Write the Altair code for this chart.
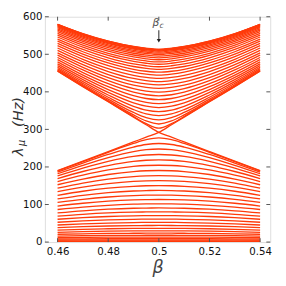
import altair as alt
import pandas as pd

# beta sample points (left half; the spectrum is symmetric about beta_c = 0.5)
beta_left = [0.46, 0.47, 0.48, 0.49, 0.495, 0.5]
beta_right = [0.505, 0.51, 0.52, 0.53, 0.54]

# upper band eigenvalues (Hz), sorted, at each beta of beta_left
upper_046 = [455.4, 456.8, 458.9, 461.9, 465.5, 469.8, 474.7, 480.0, 485.6, 491.6, 497.8, 504.0, 510.4, 516.7, 522.9, 529.0, 534.9, 540.6, 546.0, 551.1, 555.9, 560.3, 564.3, 567.9, 571.1, 573.8, 576.0, 577.7, 579.0, 579.7, 580.0]
upper_047 = [414.6, 416.3, 419.0, 422.7, 427.3, 432.5, 438.4, 444.7, 451.4, 458.3, 465.4, 472.6, 479.7, 486.7, 493.6, 500.3, 506.8, 513.0, 518.8, 524.3, 529.5, 534.2, 538.4, 542.3, 545.6, 548.4, 550.8, 552.6, 554.0, 554.7, 555.0]
upper_048 = [374.3, 376.7, 380.6, 385.6, 391.7, 398.5, 405.9, 413.7, 421.7, 429.8, 438.0, 446.1, 454.1, 462.0, 469.6, 476.9, 483.9, 490.6, 496.9, 502.7, 508.2, 513.2, 517.7, 521.7, 525.2, 528.2, 530.7, 532.6, 534.0, 534.8, 535.1]
upper_049 = [334.3, 338.7, 345.1, 352.9, 361.6, 370.7, 380.1, 389.7, 399.1, 408.5, 417.8, 426.8, 435.6, 444.1, 452.3, 460.1, 467.5, 474.5, 481.1, 487.2, 492.9, 498.1, 502.8, 506.9, 510.5, 513.6, 516.1, 518.1, 519.5, 520.4, 520.7]
upper_0495 = [315.3, 322.4, 331.4, 341.3, 351.5, 361.8, 372.1, 382.3, 392.3, 402.1, 411.7, 421.0, 430.0, 438.7, 447.0, 454.9, 462.4, 469.5, 476.2, 482.3, 488.0, 493.2, 497.9, 502.1, 505.7, 508.8, 511.4, 513.4, 514.8, 515.6, 515.9]
upper_050 = [303.2, 314.4, 325.5, 336.5, 347.5, 358.2, 368.8, 379.2, 389.4, 399.3, 409.0, 418.4, 427.4, 436.1, 444.4, 452.3, 459.8, 466.9, 473.5, 479.7, 485.4, 490.6, 495.3, 499.4, 503.0, 506.1, 508.7, 510.7, 512.1, 512.9, 513.2]

# lower band eigenvalues (Hz)
lower_046 = [189.1, 186.3, 181.9, 176.1, 169.1, 161.2, 152.6, 143.5, 134.1, 124.6, 114.9, 105.4, 95.9, 86.7, 77.7, 69.0, 60.7, 52.8, 45.4, 38.4, 32.0, 26.0, 20.7, 15.9, 11.7, 8.2, 5.3, 3.0, 1.3, 0.3, 0.0]
lower_047 = [214.2, 210.4, 204.4, 196.8, 187.9, 178.1, 167.8, 157.1, 146.2, 135.3, 124.4, 113.8, 103.3, 93.1, 83.3, 73.9, 64.9, 56.4, 48.4, 40.9, 34.0, 27.7, 22.0, 16.9, 12.5, 8.7, 5.6, 3.1, 1.4, 0.4, 0.0]
lower_048 = [239.0, 233.3, 225.0, 214.9, 203.7, 192.0, 179.9, 167.7, 155.5, 143.4, 131.6, 120.0, 108.8, 97.9, 87.5, 77.5, 68.0, 59.0, 50.6, 42.8, 35.5, 28.9, 22.9, 17.6, 13.0, 9.0, 5.8, 3.3, 1.5, 0.4, 0.0]
lower_049 = [262.6, 253.0, 241.1, 228.1, 214.7, 201.3, 187.8, 174.5, 161.4, 148.5, 136.0, 123.9, 112.1, 100.8, 90.0, 79.6, 69.8, 60.6, 51.9, 43.8, 36.4, 29.6, 23.4, 18.0, 13.3, 9.2, 5.9, 3.3, 1.5, 0.4, 0.0]
lower_0495 = [272.5, 259.8, 246.0, 231.9, 217.8, 203.8, 189.9, 176.2, 162.9, 149.9, 137.2, 124.9, 113.0, 101.6, 90.6, 80.2, 70.3, 61.0, 52.3, 44.1, 36.7, 29.8, 23.6, 18.1, 13.4, 9.3, 6.0, 3.4, 1.5, 0.4, 0.0]
lower_050 = [277.2, 262.4, 247.8, 233.2, 218.8, 204.6, 190.6, 176.8, 163.4, 150.3, 137.5, 125.2, 113.3, 101.8, 90.8, 80.4, 70.4, 61.1, 52.4, 44.2, 36.7, 29.8, 23.7, 18.2, 13.4, 9.3, 6.0, 3.4, 1.5, 0.4, 0.0]

# the two crossing branches forming the X at beta_c
cross_beta = [0.46, 0.47, 0.48, 0.49, 0.495, 0.5, 0.505, 0.51, 0.52, 0.53, 0.54]
cross_down = [455.0, 414.0, 373.5, 332.8, 312.4, 292.0, 279.3, 266.5, 241.0, 215.5, 190.0]
cross_up = [190.0, 215.5, 241.0, 266.5, 279.3, 292.0, 312.4, 332.8, 373.5, 414.0, 455.0]

x_ticks = [0.46, 0.48, 0.5, 0.52, 0.54]
y_ticks = [0, 100, 200, 300, 400, 500, 600]

rows = []
for band, cols in (("u", [upper_046, upper_047, upper_048, upper_049, upper_0495, upper_050]),
                   ("l", [lower_046, lower_047, lower_048, lower_049, lower_0495, lower_050])):
    mirrored = list(reversed(cols[:-1]))
    for j in range(len(cols[0])):
        cid = f"{band}{j}"
        for b, col in zip(beta_left, cols):
            rows.append({"beta": b, "lam": col[j], "curve": cid})
        for b, col in zip(beta_right, mirrored):
            rows.append({"beta": b, "lam": col[j], "curve": cid})
for name, vals in (("xd", cross_down), ("xu", cross_up)):
    for b, v in zip(cross_beta, vals):
        rows.append({"beta": b, "lam": v, "curve": name})
df = pd.DataFrame(rows)

W, H = 232, 232
xscale = alt.Scale(domain=[0.455, 0.544], nice=False, zero=False)
yscale = alt.Scale(domain=[0, 600], nice=False)

x_axis = alt.Axis(values=x_ticks, format="~g", ticks=False, domain=False, grid=False,
                  labelOverlap=False, labelFlush=False,
                  labelFont="DejaVu Sans", labelFontSize=10.5, labelColor="#111", labelPadding=5,
                  title="β", titleFont="DejaVu Sans", titleFontSize=18, titleFontStyle="italic",
                  titleFontWeight="normal", titleColor="#444", titlePadding=2)
y_axis = alt.Axis(values=y_ticks, ticks=False, domain=False, grid=False,
                  labelOverlap=False, labelFlush=False,
                  labelFont="DejaVu Sans", labelFontSize=10.5, labelColor="#111", labelPadding=3,
                  title=None)


def X(field):
    return alt.X(field, type="quantitative", scale=xscale, axis=x_axis)


def Y(field):
    return alt.Y(field, type="quantitative", scale=yscale, axis=y_axis)


lines = alt.Chart(df).mark_line(color="#ff3a0a", strokeWidth=1.35, interpolate="monotone", clip=True).encode(
    x=X("beta"), y=Y("lam"), detail="curve:N",
)

ydf = pd.DataFrame({"v": y_ticks})
xdf = pd.DataFrame({"b": x_ticks})
tick_col = "#555"
lt = alt.Chart(ydf).mark_rule(color=tick_col).encode(y=Y("v"), x=alt.value(0), x2=alt.value(4))
rt = alt.Chart(ydf).mark_rule(color=tick_col).encode(y=Y("v"), x=alt.value(W - 4), x2=alt.value(W))
bt = alt.Chart(xdf).mark_rule(color=tick_col).encode(x=X("b"), y=alt.value(H), y2=alt.value(H - 4))
tt = alt.Chart(xdf).mark_rule(color=tick_col).encode(x=X("b"), y=alt.value(0), y2=alt.value(4))

# beta_c annotation
ann_beta = [0.5]
arrow_top = [564]
arrow_tip = [536]
label_y = [582]
adf = pd.DataFrame({"b": ann_beta, "y1": arrow_top, "y2": arrow_tip, "ly": label_y})
arrow = alt.Chart(adf).mark_rule(color="#222", strokeWidth=1).encode(x=X("b"), y=Y("y1"), y2="y2:Q")
head = alt.Chart(adf).mark_point(shape="triangle-down", filled=True, color="#222", size=18, opacity=1).encode(
    x=X("b"), y=Y("y2"))
lab_b = alt.Chart(adf).mark_text(text="β", font="DejaVu Sans", fontStyle="italic", fontSize=11,
                                 color="#555", dx=-3, baseline="middle").encode(x=X("b"), y=Y("ly"))
lab_c = alt.Chart(adf).mark_text(text="c", font="DejaVu Sans", fontStyle="italic", fontSize=8,
                                 color="#555", dx=3, dy=3, baseline="middle").encode(x=X("b"), y=Y("ly"))

# y axis title: λ_μ (Hz)
tdf = pd.DataFrame({"k": [0]})
t_lam = alt.Chart(tdf).mark_text(text="λ", font="DejaVu Sans", fontStyle="italic", fontSize=15, angle=270,
                                 color="#333", baseline="middle", align="center").encode(
    x=alt.value(-28), y=alt.value(139))
t_mu = alt.Chart(tdf).mark_text(text="μ", font="DejaVu Sans", fontStyle="italic", fontSize=10, angle=270,
                                color="#333", baseline="middle", align="center").encode(
    x=alt.value(-24), y=alt.value(130))
t_hz = alt.Chart(tdf).mark_text(text="(Hz)", font="DejaVu Sans", fontStyle="italic", fontSize=15, angle=270,
                                color="#333", baseline="middle", align="center").encode(
    x=alt.value(-28), y=alt.value(98))

chart = alt.layer(lines, lt, rt, bt, tt, arrow, head, lab_b, lab_c, t_lam, t_mu, t_hz).properties(
    width=W, height=H,
    autosize=alt.AutoSizeParams(type="none"),
    padding={"left": 38, "top": 5, "right": 8, "bottom": 33},
).configure_view(stroke="#555", strokeWidth=1).configure(background="white")

chart.save("out.html", embed_options={"renderer": "svg", "actions": False})
